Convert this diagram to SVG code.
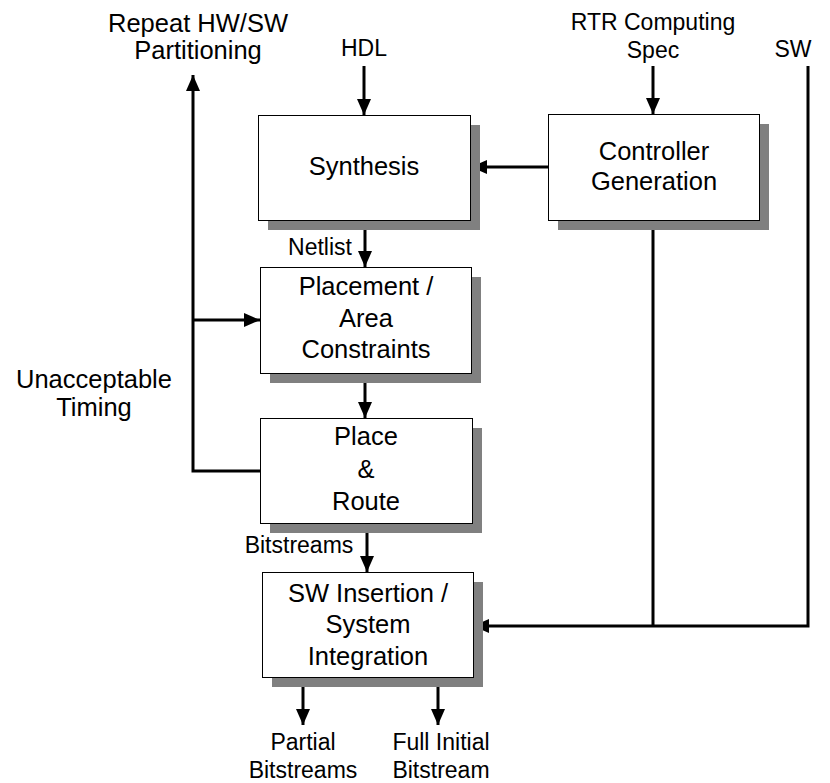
<svg xmlns="http://www.w3.org/2000/svg" width="830" height="783" viewBox="0 0 830 783">
<style>
.box{fill:#fff;stroke:#000;stroke-width:1}
.sh{fill:#808080}
.t{font-family:"Liberation Sans",Arial,sans-serif;font-size:25.5px;text-anchor:middle;fill:#000}
.s{font-size:23px}
.ln{fill:none;stroke:#000;stroke-width:3}
</style>
<defs>
<marker id="ah" viewBox="0 0 16 14" refX="16" refY="7" markerWidth="16" markerHeight="14" markerUnits="userSpaceOnUse" orient="auto">
<path d="M0,0 L16,7 L0,14 Z" fill="#000"/>
</marker>
</defs>
<rect width="830" height="783" fill="#fff"/>
<g id="connectors">
<line class="ln" x1="364" y1="66" x2="364" y2="115" marker-end="url(#ah)"/>
<line class="ln" x1="653" y1="66" x2="653" y2="114" marker-end="url(#ah)"/>
<line class="ln" x1="548" y1="167" x2="471" y2="167" marker-end="url(#ah)"/>
<line class="ln" x1="365" y1="220" x2="365" y2="267" marker-end="url(#ah)"/>
<line class="ln" x1="365" y1="373" x2="365" y2="418" marker-end="url(#ah)"/>
<line class="ln" x1="367" y1="523" x2="367" y2="572" marker-end="url(#ah)"/>
<polyline class="ln" points="260,471 193,471 193,75" marker-end="url(#ah)"/>
<line class="ln" x1="193" y1="320" x2="260" y2="320" marker-end="url(#ah)"/>
<line class="ln" x1="653" y1="220" x2="653" y2="626"/>
<polyline class="ln" points="808,66 808,626 473,626" marker-end="url(#ah)"/>
<line class="ln" x1="303" y1="677" x2="303" y2="725" marker-end="url(#ah)"/>
<line class="ln" x1="438" y1="677" x2="438" y2="725" marker-end="url(#ah)"/>
</g>
<g id="synthesis">
<rect class="sh" x="268" y="125" width="212" height="105"/>
<rect class="box" x="258.5" y="115.5" width="212" height="105"/>
<text class="t" x="364" y="175">Synthesis</text>
</g>
<g id="controller">
<rect class="sh" x="558" y="124" width="211" height="106"/>
<rect class="box" x="548.5" y="114.5" width="211" height="106"/>
<text class="t" x="654" y="160">Controller</text>
<text class="t" x="654" y="190">Generation</text>
</g>
<g id="placement">
<rect class="sh" x="270" y="277" width="211" height="106"/>
<rect class="box" x="260.5" y="267.5" width="211" height="106"/>
<text class="t" x="366" y="295">Placement /</text>
<text class="t" x="366" y="327">Area</text>
<text class="t" x="366" y="358">Constraints</text>
</g>
<g id="placeroute">
<rect class="sh" x="270" y="428" width="212" height="105"/>
<rect class="box" x="260.5" y="418.5" width="212" height="105"/>
<text class="t" x="366" y="445">Place</text>
<text class="t" x="366" y="478">&amp;</text>
<text class="t" x="366" y="510">Route</text>
</g>
<g id="swinsertion">
<rect class="sh" x="272" y="582" width="211" height="105"/>
<rect class="box" x="262.5" y="572.5" width="211" height="105"/>
<text class="t" x="368" y="602">SW Insertion /</text>
<text class="t" x="368" y="633">System</text>
<text class="t" x="368" y="665">Integration</text>
</g>
<g id="labels">
<text class="t" x="198" y="32">Repeat HW/SW</text>
<text class="t" x="198" y="59">Partitioning</text>
<text class="t s" x="364" y="56">HDL</text>
<text class="t s" x="653" y="30">RTR Computing</text>
<text class="t s" x="653" y="58">Spec</text>
<text class="t s" x="793" y="57">SW</text>
<text class="t s" x="320" y="255">Netlist</text>
<text class="t s" x="299" y="553">Bitstreams</text>
<text class="t" x="94" y="388">Unacceptable</text>
<text class="t" x="94" y="416">Timing</text>
<text class="t s" x="303" y="750">Partial</text>
<text class="t s" x="303" y="778">Bitstreams</text>
<text class="t s" x="441" y="750">Full Initial</text>
<text class="t s" x="441" y="778">Bitstream</text>
</g>
</svg>
